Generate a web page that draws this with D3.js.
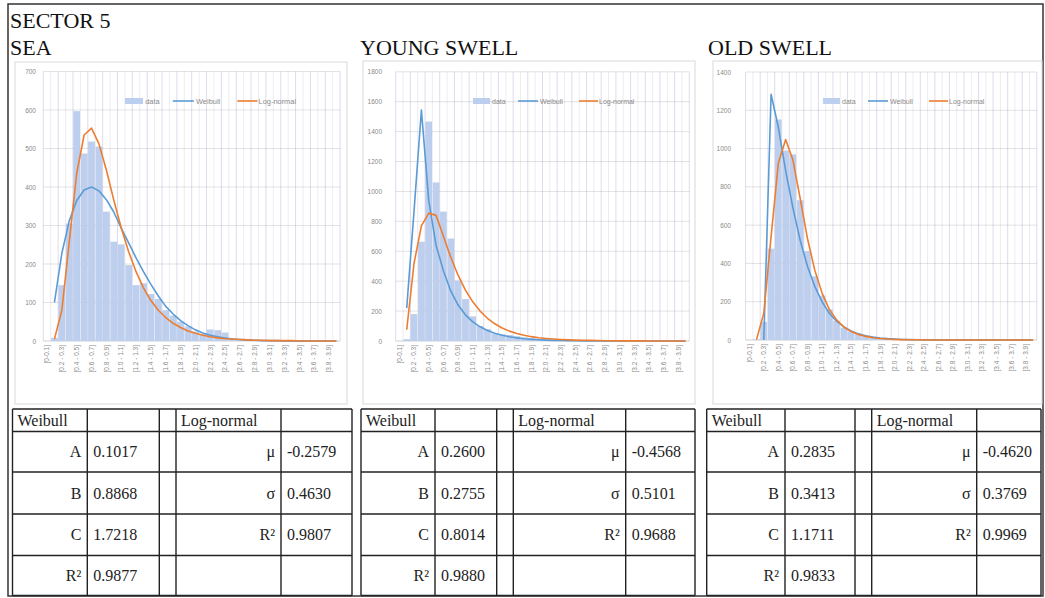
<!DOCTYPE html>
<meta charset="utf-8">
<head>
	<title>Sector 5 - wave height distributions</title>
</head>

<style>

body{
	margin: 0;
	background-color: #fff;
}

svg{
	display: block;
}

.title{
	font-family: "Liberation Serif", "Times New Roman", serif;
	font-size: 22px;
	fill: #111;
}

.cell{
	font-family: "Liberation Serif", "Times New Roman", serif;
	font-size: 16px;
	fill: #222;
}

.axis text, .legend text{
	font-family: "Liberation Sans", Arial, sans-serif;
	fill: #8a8a8a;
}

</style>

<body>

<svg id="chart" width="1045" height="598"></svg>

<script src="https://cdnjs.cloudflare.com/ajax/libs/d3/7.8.5/d3.min.js"></script>
<script>

// categories (wave height bins, m)
var categories = ['[0-0.1]', '[0.1 - 0.2]', '[0.2 - 0.3]', '[0.3 - 0.4]', '[0.4 - 0.5]',
	'[0.5 - 0.6]', '[0.6 - 0.7]', '[0.7 - 0.8]', '[0.8 - 0.9]', '[0.9 - 1.0]',
	'[1.0 - 1.1]', '[1.1 - 1.2]', '[1.2 - 1.3]', '[1.3 - 1.4]', '[1.4 - 1.5]',
	'[1.5 - 1.6]', '[1.6 - 1.7]', '[1.7 - 1.8]', '[1.8 - 1.9]', '[1.9 - 2.0]',
	'[2.0 - 2.1]', '[2.1 - 2.2]', '[2.2 - 2.3]', '[2.3 - 2.4]', '[2.4 - 2.5]',
	'[2.5 - 2.6]', '[2.6 - 2.7]', '[2.7 - 2.8]', '[2.8 - 2.9]', '[2.9 - 3.0]',
	'[3.0 - 3.1]', '[3.1 - 3.2]', '[3.2 - 3.3]', '[3.3 - 3.4]', '[3.4 - 3.5]',
	'[3.5 - 3.6]', '[3.6 - 3.7]', '[3.7 - 3.8]', '[3.8 - 3.9]', '[3.9 - 4.0]'];

// SEA
var seaData = [0, 8, 145, 305, 597, 487, 518, 505, 336, 258,
	251, 197, 145, 150, 122, 109, 80, 66, 50, 38,
	25, 18, 30, 28, 22, 5, 3, 2, 1, 0,
	0, 0, 0, 0, 0, 0, 0, 0, 0, 0];
var seaWeibull = [null, 100, 228, 312, 365, 392, 400, 390, 367, 335,
	293, 255, 216, 180, 147, 117, 90, 70, 53, 40,
	29, 21, 15, 11, 8, 5, 4, 3, 2, 1,
	1, 1, 0, 0, 0, 0, 0, 0, 0, 0];
var seaLognormal = [null, 5, 80, 258, 435, 535, 553, 512, 444, 366,
	294, 232, 180, 138, 105, 80, 61, 46, 35, 26,
	20, 15, 11, 8, 6, 5, 4, 3, 2, 2,
	1, 1, 1, 1, 0, 0, 0, 0, 0, 0];
var seaTicks = [0, 100, 200, 300, 400, 500, 600, 700];

// YOUNG SWELL
var youngData = [0, 12, 180, 664, 1467, 1060, 865, 685, 405, 280,
	165, 100, 80, 50, 45, 40, 32, 25, 20, 15,
	10, 8, 5, 3, 2, 1, 1, 0, 0, 0,
	0, 0, 0, 0, 0, 0, 0, 0, 0, 0];
var youngWeibull = [null, 220, 870, 1545, 940, 640, 470, 335, 240, 175,
	128, 95, 70, 52, 38, 28, 21, 15, 11, 8,
	6, 4, 3, 2, 2, 1, 1, 1, 0, 0,
	0, 0, 0, 0, 0, 0, 0, 0, 0, 0];
var youngLognormal = [null, 75, 520, 770, 855, 840, 700, 560, 440, 340,
	262, 200, 152, 115, 87, 66, 50, 38, 29, 22,
	17, 13, 10, 8, 6, 5, 4, 3, 2, 2,
	1, 1, 1, 1, 0, 0, 0, 0, 0, 0];
var youngTicks = [0, 200, 400, 600, 800, 1000, 1200, 1400, 1600, 1800];

// OLD SWELL
var oldData = [0, 3, 95, 477, 1152, 990, 970, 730, 465, 333,
	232, 160, 100, 65, 45, 30, 20, 12, 8, 5,
	3, 2, 1, 0, 0, 0, 0, 0, 0, 0,
	0, 0, 0, 0, 0, 0, 0, 0, 0, 0];
var oldWeibull = [null, null, 0, 1284, 1110, 885, 690, 520, 385, 280,
	200, 140, 98, 68, 47, 32, 22, 15, 10, 7,
	5, 3, 2, 1, 1, 0, 0, 0, 0, 0,
	0, 0, 0, 0, 0, 0, 0, 0, 0, 0];
var oldLognormal = [null, 2, 140, 540, 925, 1047, 940, 738, 530, 365,
	245, 160, 105, 68, 44, 29, 19, 12, 8, 5,
	3, 2, 1, 1, 0, 0, 0, 0, 0, 0,
	0, 0, 0, 0, 0, 0, 0, 0, 0, 0];
var oldTicks = [0, 200, 400, 600, 800, 1000, 1200, 1400];

// fitted parameters (tables)
var weibullLabels = ['A', 'B', 'C', 'R\u00b2'];
var lognormalLabels = ['\u03bc', '\u03c3', 'R\u00b2'];
var seaWeibullParams = ['0.1017', '0.8868', '1.7218', '0.9877'];
var seaLognormalParams = ['-0.2579', '0.4630', '0.9807'];
var youngWeibullParams = ['0.2600', '0.2755', '0.8014', '0.9880'];
var youngLognormalParams = ['-0.4568', '0.5101', '0.9688'];
var oldWeibullParams = ['0.2835', '0.3413', '1.1711', '0.9833'];
var oldLognormalParams = ['-0.4620', '0.3769', '0.9969'];

var seriesNames = ['data', 'Weibull', 'Log-normal'];

// layout
var barColor = '#bccfee';
var weibullColor = '#5b9bd5';
var lognormalColor = '#ed7d31';
var gridColor = '#e3e3e3';

var panels = [
	{title: 'SEA', titleX: 10, box: [15, 62, 347, 404], plot: [43.3, 71.5, 340.1, 341],
		labelRight: 36, legendX: 125, legendScale: 1.06,
		bars: seaData, weibull: seaWeibull, lognormal: seaLognormal, ticks: seaTicks,
		cols: [12.5, 87.3, 159.3, 176, 281, 352], wp: seaWeibullParams, lp: seaLognormalParams},
	{title: 'YOUNG SWELL', titleX: 360, box: [363, 61, 695, 404], plot: [395.7, 71.8, 689.3, 341],
		labelRight: 382, legendX: 473, legendScale: 1,
		bars: youngData, weibull: youngWeibull, lognormal: youngLognormal, ticks: youngTicks,
		cols: [361, 435, 496.7, 513.3, 625.7, 695], wp: youngWeibullParams, lp: youngLognormalParams},
	{title: 'OLD SWELL', titleX: 708, box: [713, 61, 1042, 404], plot: [745.6, 72, 1036.8, 340],
		labelRight: 731, legendX: 823, legendScale: 1,
		bars: oldData, weibull: oldWeibull, lognormal: oldLognormal, ticks: oldTicks,
		cols: [706.7, 785, 855, 871.7, 976.7, 1041], wp: oldWeibullParams, lp: oldLognormalParams}
];
var tableRows = [409, 431.5, 472, 514, 555.5, 595.5];

var svg = d3.select('#chart');

// outer frame
svg.append('rect')
	.attr('x', 8).attr('y', 4)
	.attr('width', 1035).attr('height', 592)
	.attr('fill', 'none')
	.attr('stroke', '#333')
	.attr('stroke-width', 1.5);

svg.append('text')
	.attr('class', 'title')
	.attr('x', 10).attr('y', 28)
	.text('SECTOR 5');

panels.forEach(function(p){

	svg.append('text')
		.attr('class', 'title')
		.attr('x', p.titleX).attr('y', 55)
		.text(p.title);

	// chart area border
	svg.append('rect')
		.attr('x', p.box[0]).attr('y', p.box[1])
		.attr('width', p.box[2] - p.box[0]).attr('height', p.box[3] - p.box[1])
		.attr('fill', '#fff')
		.attr('stroke', '#d9d9d9')
		.attr('stroke-width', 1);

	var x = d3.scaleBand()
		.domain(categories)
		.range([p.plot[0], p.plot[2]]);
	var y = d3.scaleLinear()
		.domain([0, d3.max(p.ticks)])
		.range([p.plot[3], p.plot[1]]);
	var bw = x.bandwidth();

	var g = svg.append('g');

	// horizontal gridlines
	g.selectAll('line.hgrid')
		.data(p.ticks)
		.enter()
		.append('line')
		.attr('x1', p.plot[0]).attr('x2', p.plot[2])
		.attr('y1', function(d){ return y(d); })
		.attr('y2', function(d){ return y(d); })
		.attr('stroke', function(d){ return d === 0 ? '#d0d0d0' : gridColor; })
		.attr('stroke-width', 1);

	// bars
	g.selectAll('rect.bar')
		.data(p.bars)
		.enter()
		.append('rect')
		.attr('x', function(d, i){ return x(categories[i]) + 0.4; })
		.attr('width', bw - 0.8)
		.attr('y', function(d){ return y(d); })
		.attr('height', function(d){ return y(0) - y(d); })
		.attr('fill', barColor);

	// vertical gridlines (tinted where they cross the bars)
	g.selectAll('line.vgrid')
		.data(categories.concat(['end']))
		.enter()
		.append('line')
		.attr('x1', function(d, i){ return p.plot[0] + i * bw; })
		.attr('x2', function(d, i){ return p.plot[0] + i * bw; })
		.attr('y1', p.plot[1]).attr('y2', p.plot[3])
		.attr('stroke', function(d, i){ return i % 2 === 0 ? 'rgba(130,115,185,0.26)' : 'rgba(140,135,170,0.16)'; })
		.attr('stroke-width', 1);

	// fitted curves
	var line = d3.line()
		.defined(function(d){ return d !== null; })
		.x(function(d, i){ return x(categories[i]) + bw / 2; })
		.y(function(d){ return y(d); });

	g.append('path')
		.datum(p.weibull)
		.attr('d', line)
		.attr('fill', 'none')
		.attr('stroke', weibullColor)
		.attr('stroke-width', 1.6)
		.attr('stroke-linejoin', 'round');

	g.append('path')
		.datum(p.lognormal)
		.attr('d', line)
		.attr('fill', 'none')
		.attr('stroke', lognormalColor)
		.attr('stroke-width', 1.6)
		.attr('stroke-linejoin', 'round');

	// y axis labels
	var yAxis = g.append('g')
		.attr('class', 'axis')
		.attr('transform', 'translate(' + p.labelRight + ',0)')
		.call(d3.axisLeft(y)
			.tickValues(p.ticks)
			.tickFormat(d3.format('d'))
			.tickSize(0)
			.tickPadding(0));
	yAxis.select('.domain').remove();
	yAxis.selectAll('text').style('font-size', '6.5px');

	// x axis labels, every other bin
	var xAxis = g.append('g')
		.attr('class', 'axis')
		.attr('transform', 'translate(0,' + p.plot[3] + ')')
		.call(d3.axisBottom(x)
			.tickValues(categories.filter(function(d, i){ return i % 2 === 0; }))
			.tickSize(0));
	xAxis.select('.domain').remove();
	xAxis.selectAll('text')
		.attr('transform', 'rotate(-90)')
		.attr('x', -4)
		.attr('y', 0)
		.attr('dy', '0.35em')
		.style('text-anchor', 'end')
		.style('font-size', '6.5px');

	// legend
	var lg = g.append('g')
		.attr('class', 'legend')
		.attr('transform', 'translate(' + p.legendX + ',101) scale(' + p.legendScale + ',1)');
	lg.append('rect')
		.attr('x', 0).attr('y', -3).attr('width', 17).attr('height', 6)
		.attr('fill', barColor);
	lg.append('line')
		.attr('x1', 45).attr('x2', 65).attr('y1', 0).attr('y2', 0)
		.attr('stroke', weibullColor).attr('stroke-width', 1.6);
	lg.append('line')
		.attr('x1', 106).attr('x2', 125).attr('y1', 0).attr('y2', 0)
		.attr('stroke', lognormalColor).attr('stroke-width', 1.6);
	lg.selectAll('text')
		.data(seriesNames)
		.enter()
		.append('text')
		.attr('x', function(d, i){ return [19, 67, 126][i]; })
		.attr('y', 2.5)
		.style('font-size', '7px')
		.text(function(d){ return d; });

	// parameter table
	var t = svg.append('g');
	t.selectAll('line.row')
		.data(tableRows)
		.enter()
		.append('line')
		.attr('x1', p.cols[0]).attr('x2', p.cols[5])
		.attr('y1', function(d){ return d; })
		.attr('y2', function(d){ return d; })
		.attr('stroke', '#222')
		.attr('stroke-width', 1.4);
	t.selectAll('line.col')
		.data(p.cols)
		.enter()
		.append('line')
		.attr('x1', function(d){ return d; })
		.attr('x2', function(d){ return d; })
		.attr('y1', tableRows[0]).attr('y2', tableRows[5])
		.attr('stroke', '#222')
		.attr('stroke-width', 1.4);

	t.append('text').attr('class', 'cell')
		.attr('x', p.cols[0] + 5).attr('y', tableRows[1] - 6)
		.text('Weibull');
	t.append('text').attr('class', 'cell')
		.attr('x', p.cols[3] + 5).attr('y', tableRows[1] - 6)
		.text('Log-normal');

	function rowY(i){
		return (tableRows[i + 1] + tableRows[i + 2]) / 2 + 5.5;
	}

	t.selectAll('text.wl')
		.data(weibullLabels)
		.enter()
		.append('text')
		.attr('class', 'cell')
		.attr('x', p.cols[1] - 6)
		.attr('y', function(d, i){ return rowY(i); })
		.style('text-anchor', 'end')
		.text(function(d){ return d; });
	t.selectAll('text.wv')
		.data(p.wp)
		.enter()
		.append('text')
		.attr('class', 'cell')
		.attr('x', p.cols[1] + 6)
		.attr('y', function(d, i){ return rowY(i); })
		.text(function(d){ return d; });
	t.selectAll('text.ll')
		.data(lognormalLabels)
		.enter()
		.append('text')
		.attr('class', 'cell')
		.attr('x', p.cols[4] - 6)
		.attr('y', function(d, i){ return rowY(i); })
		.style('text-anchor', 'end')
		.text(function(d){ return d; });
	t.selectAll('text.lv')
		.data(p.lp)
		.enter()
		.append('text')
		.attr('class', 'cell')
		.attr('x', p.cols[4] + 6)
		.attr('y', function(d, i){ return rowY(i); })
		.text(function(d){ return d; });
});

</script>

</body>
</html>
